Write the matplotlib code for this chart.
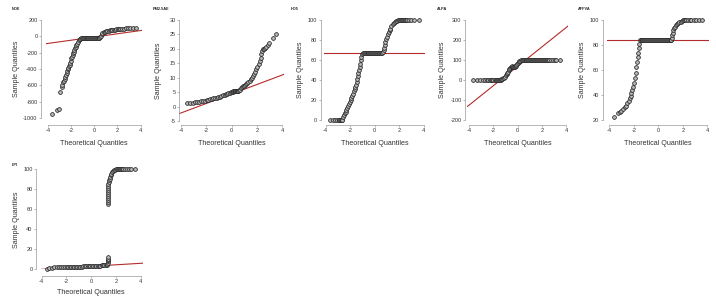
import numpy as np
import matplotlib
matplotlib.use("Agg")
import matplotlib.pyplot as plt

plt.rcParams["font.family"] = ["Liberation Sans", "DejaVu Sans"]
plt.rcParams["axes.unicode_minus"] = False

W, H = 716, 304
DPI = 100
PT = 72.0 / DPI  # points per pixel

# ------------------------------
# Data (theoretical vs sample quantiles)
# ------------------------------
NOE_X = [-3.63, -3.20, -3.03, -2.97, -2.83, -2.75, -2.68, -2.62, -2.56, -2.50, -2.45, -2.40,
         -2.34, -2.29, -2.24, -2.19, -2.14, -2.09, -2.04, -1.97, -1.92, -1.87, -1.82, -1.77,
         -1.71, -1.65, -1.60, -1.54, -1.48, -1.41, -1.34, -1.27, -1.20,
         -1.15, -1.07, -0.99, -0.91, -0.83, -0.75, -0.67, -0.59, -0.51, -0.43, -0.35, -0.27,
         -0.19, -0.11, -0.03, 0.05, 0.13, 0.21, 0.29, 0.37, 0.45,
         0.52, 0.57, 0.63, 0.70, 0.80, 0.91, 1.02, 1.13, 1.24, 1.34, 1.45, 1.56, 1.68, 1.80,
         1.91, 2.03, 2.15, 2.27, 2.40, 2.55, 2.72, 2.90, 3.10, 3.35, 3.60]
NOE_Y = [-948, -900, -888, -680, -616, -590, -565, -545, -528, -500, -475, -452,
         -428, -405, -385, -366, -348, -325, -300, -268, -248, -228, -208, -188,
         -165, -145, -126, -108, -88, -68, -48, -36, -28,
         -25, -25, -25, -25, -25, -25, -25, -25, -25, -25, -25, -25,
         -25, -25, -25, -25, -25, -25, -25, -25, -25,
         -10, 10, 30, 42, 48, 54, 60, 65, 70, 73, 76, 79, 81, 83,
         85, 87, 89, 90, 92, 94, 96, 98, 100, 100, 100]
NOE_LINE = (-8, 19.7)

PM25_X = [-3.54, -3.25, -3.05, -2.88, -2.72, -2.55, -2.40, -2.25, -2.10, -1.97, -1.84, -1.70,
          -1.57, -1.44, -1.31, -1.18, -1.05, -0.92, -0.80, -0.68, -0.55, -0.45, -0.35, -0.25,
          -0.13, -0.05,
          0.05, 0.10, 0.15, 0.20, 0.25, 0.30, 0.35, 0.40, 0.45, 0.50, 0.55,
          0.62, 0.70, 0.78, 0.86, 0.94, 1.02, 1.10, 1.18, 1.26, 1.34, 1.44, 1.52, 1.60, 1.70,
          1.78, 1.86, 1.97, 2.05, 2.14, 2.23, 2.30, 2.36, 2.42, 2.50, 2.58, 2.66, 2.76, 2.88,
          3.00, 3.28, 3.54]
PM25_Y = [1.2, 1.3, 1.4, 1.5, 1.6, 1.7, 1.8, 1.95, 2.1, 2.2, 2.35, 2.5,
          2.65, 2.8, 2.95, 3.1, 3.25, 3.4, 3.6, 3.85, 4.1, 4.3, 4.5, 4.65,
          4.8, 4.95,
          5.1, 5.2, 5.25, 5.3, 5.3, 5.3, 5.3, 5.3, 5.35, 5.4, 5.45,
          5.6, 5.9, 6.3, 6.7, 7.0, 7.3, 7.5, 7.7, 8.1, 8.4, 8.8, 9.4, 10.0, 10.6,
          11.3, 12.0, 12.9, 13.8, 14.8, 15.8, 17.0, 18.1, 19.2, 19.8, 20.1, 20.4, 20.7, 21.4,
          22.2, 23.7, 25.1]
PM25_LINE = (4.35, 1.64)

HO5_X = [-3.66, -3.40, -3.20, -3.05, -2.95, -2.88, -2.82, -2.76, -2.70, -2.64,
         -2.57, -2.50, -2.43, -2.37, -2.30, -2.23, -2.16, -2.10, -2.03, -1.96, -1.89, -1.82,
         -1.76, -1.70, -1.64, -1.58, -1.52, -1.47, -1.42, -1.37, -1.32, -1.27, -1.22, -1.18,
         -1.13, -1.08, -1.03,
         -0.98, -0.90, -0.82, -0.74, -0.66, -0.58, -0.50, -0.42, -0.34, -0.26, -0.18, -0.10,
         -0.02, 0.06, 0.14, 0.22, 0.30, 0.38, 0.46, 0.54, 0.62,
         0.68, 0.73, 0.78, 0.84, 0.89, 0.94, 1.00, 1.08, 1.15, 1.22, 1.30, 1.38, 1.49, 1.58,
         1.67, 1.76, 1.85, 1.94, 2.03,
         2.10, 2.17, 2.24, 2.31, 2.38, 2.46, 2.55, 2.65, 2.80, 3.00, 3.25, 3.66]
HO5_Y = [0, 0, 0, 0, 0, 0, 0, 0, 0, 0,
         2.7, 4.5, 6.5, 8.0, 9.4, 11.5, 13.5, 15.5, 17.7, 20.0, 22.0, 24.0,
         26.1, 28.5, 31.0, 33.0, 35.0, 37.5, 40.5, 44.0, 47.0, 50.0, 52.8, 56.0,
         59.5, 62.9, 65.5,
         67, 67, 67, 67, 67, 67, 67, 67, 67, 67, 67, 67,
         67, 67, 67, 67, 67, 67, 67, 67, 67,
         68, 69.6, 72, 75, 77.9, 80.5, 83, 86.3, 88, 90, 91.3, 93.5, 95.7, 97,
         98, 98.7, 99.2, 99.5, 99.7,
         100, 100, 100, 100, 100, 100, 100, 100, 100, 100, 100, 100]
HO5_LINE = (67, 0.0)

ALPA_X = [-3.68, -3.35, -3.10, -2.90, -2.72, -2.56, -2.42, -2.30, -2.19, -2.09, -2.00, -1.91,
          -1.83, -1.75, -1.68, -1.61, -1.54, -1.47, -1.40, -1.34,
          -1.27, -1.20, -1.12, -1.05, -0.98, -0.92, -0.86, -0.80, -0.74, -0.68, -0.62, -0.56,
          -0.50, -0.45, -0.40, -0.35, -0.30, -0.25, -0.20, -0.15, -0.10, -0.04, 0.02, 0.08,
          0.14, 0.20, 0.27,
          0.33, 0.41, 0.49, 0.57, 0.65, 0.73, 0.81, 0.89, 0.97, 1.05, 1.13, 1.21, 1.29, 1.37,
          1.45, 1.53, 1.61, 1.69, 1.77, 1.85, 1.93, 2.01, 2.09, 2.17, 2.25, 2.33, 2.41, 2.50,
          2.62, 2.75, 2.90, 3.05, 3.20, 3.52]
ALPA_Y = [0, 0, 0, 0, 0, 0, 0, 0, 0, 0, 0, 0,
          0, 0, 0, 0, 1, 1, 2, 3,
          5, 8, 12, 17, 24, 29, 33, 42, 49, 54, 58, 63,
          67, 68, 66, 64, 65, 66, 68, 70, 73, 78, 83, 88,
          93, 97, 99,
          100, 100, 100, 100, 100, 100, 100, 100, 100, 100, 100, 100, 100, 100,
          100, 100, 100, 100, 100, 100, 100, 100, 100, 100, 100, 100, 100, 100,
          100, 100, 100, 100, 100, 100]
ALPA_LINE = (68.5, 48.3)

AFFVA_X = [-3.62, -3.29, -3.15, -3.02, -2.88, -2.74, -2.63, -2.52, -2.42, -2.33, -2.26, -2.19,
           -2.12, -2.05, -1.98, -1.92, -1.85, -1.78, -1.72, -1.67, -1.63, -1.59, -1.55, -1.51,
           -1.45, -1.37, -1.29, -1.21, -1.13, -1.05, -0.97, -0.89, -0.81, -0.73, -0.65, -0.57,
           -0.49, -0.41, -0.33, -0.25, -0.17, -0.09, -0.01, 0.07, 0.15, 0.23, 0.31, 0.39,
           0.47, 0.55, 0.63, 0.71, 0.79, 0.87, 0.95, 1.03, 1.07,
           1.12, 1.15, 1.19, 1.23, 1.30, 1.37, 1.45, 1.55, 1.64, 1.72, 1.82, 1.92,
           2.00, 2.08, 2.19, 2.30, 2.42, 2.55, 2.70, 2.88, 3.10, 3.30, 3.56]
AFFVA_Y = [22.1, 25.3, 26.5, 27.5, 28.8, 30.1, 31.5, 33.3, 35.3, 37.3, 39.3, 41.3,
           44.0, 46.7, 50.0, 53.3, 58.0, 62.7, 66.7, 70.7, 74.0, 77.3, 80.5, 84.0,
           84, 84, 84, 84, 84, 84, 84, 84, 84, 84, 84, 84,
           84, 84, 84, 84, 84, 84, 84, 84, 84, 84, 84, 84,
           84, 84, 84, 84, 84, 84, 84, 84, 84,
           86, 88, 90, 92, 93.5, 94.7, 95.8, 96.8, 97.3, 98.2, 98.8, 99.2,
           100, 100, 100, 100, 100, 100, 100, 100, 100, 100, 100]
AFFVA_LINE = (84, 0.0)

LPI_X = [-3.60, -3.40, -3.18, -2.98, -2.78, -2.60, -2.42, -2.25, -2.10, -1.97, -1.85, -1.72,
         -1.60, -1.48, -1.36, -1.24, -1.12, -1.00, -0.89, -0.77, -0.65, -0.53, -0.41, -0.29,
         -0.18, -0.08, 0.04, 0.16, 0.28, 0.40, 0.52, 0.63, 0.73, 0.84, 0.95, 1.06, 1.16, 1.27,
         1.31, 1.33, 1.34, 1.35, 1.35, 1.36,
         1.36, 1.36, 1.36, 1.36, 1.37, 1.37, 1.37, 1.37, 1.38, 1.38, 1.38,
         1.40, 1.44, 1.48, 1.53, 1.58, 1.62, 1.68, 1.75, 1.85, 1.95,
         2.02, 2.10, 2.18, 2.26, 2.34, 2.42, 2.50, 2.60, 2.72, 2.86, 3.02, 3.25, 3.50]
LPI_Y = [0, 1.2, 1.7, 1.9, 2.0, 2.1, 2.2, 2.2, 2.3, 2.3, 2.4, 2.4,
         2.5, 2.5, 2.6, 2.6, 2.6, 2.7, 2.7, 2.8, 2.9, 3.0, 3.0, 3.1,
         3.2, 3.3, 3.4, 3.5, 3.5, 3.6, 3.7, 3.8, 3.8, 3.9, 4.0, 4.1, 4.2, 4.3,
         5.0, 6.5, 8.0, 9.3, 10.5, 12.0,
         65, 67, 69, 71, 73, 75, 77, 79, 81, 83, 85,
         87, 89, 90.7, 92.5, 94.2, 95.7, 97.2, 98.3, 99.2, 99.7,
         100, 100, 100, 100, 100, 100, 100, 100, 100, 100, 100, 100, 100]
LPI_LINE = (3.0, 0.75)

X_TICKS = [-4, -2, 0, 2, 4]

# ------------------------------
# Panel layout in pixels: x of -4 / 4, y of top / bottom tick, y-axis x, x-axis y
# ------------------------------
PANELS = [
    dict(title="NOE", x=NOE_X, y=NOE_Y, line=NOE_LINE, yticks=list(range(-1000, 201, 200)),
         px=(48, 140.5, 20, 118, 41, 125), tpos=(12, 9), ylx=16, xly=144),
    dict(title="PM2.5AE", x=PM25_X, y=PM25_Y, line=PM25_LINE, yticks=list(range(-5, 31, 5)),
         px=(181, 282, 20, 121, 179, 125), tpos=(153, 9), ylx=159, xly=144),
    dict(title="HO5", x=HO5_X, y=HO5_Y, line=HO5_LINE, yticks=list(range(0, 101, 20)),
         px=(325.7, 423.5, 20, 119.5, 320.7, 124.5), tpos=(291, 9), ylx=301, xly=144),
    dict(title="ALPA", x=ALPA_X, y=ALPA_Y, line=ALPA_LINE, yticks=list(range(-200, 301, 100)),
         px=(469.3, 566, 20, 120, 465, 125), tpos=(437, 9), ylx=442, xly=144),
    dict(title="AFFVA", x=AFFVA_X, y=AFFVA_Y, line=AFFVA_LINE, yticks=list(range(20, 101, 20)),
         px=(609.3, 707.3, 20, 120, 602.7, 125), tpos=(578, 9), ylx=583, xly=144),
    dict(title="LPI", x=LPI_X, y=LPI_Y, line=LPI_LINE, yticks=list(range(0, 101, 20)),
         px=(41.7, 140.7, 169.3, 269.3, 36, 275.7), tpos=(12, 164.7), ylx=16, xly=292.7),
]

fig = plt.figure(figsize=(W / DPI, H / DPI), dpi=DPI)
fig.patch.set_facecolor("white")

AXIS_COL = "#9a9a9a"
TEXT_COL = "#333333"

for p in PANELS:
    x_lo, x_hi, y_top, y_bot, yaxis_px, xaxis_px = p["px"]
    unit = (x_hi - x_lo) / 8.0
    left = x_lo - 0.15 * unit
    right = x_hi + 0.15 * unit
    ax = fig.add_axes([left / W, 1 - y_bot / H, (right - left) / W, (y_bot - y_top) / H])
    ax.set_facecolor("none")
    ax.set_xlim(-4.15, 4.15)
    ymin, ymax = p["yticks"][0], p["yticks"][-1]
    ax.set_ylim(ymin, ymax)

    ax.plot(p["x"], p["y"], linestyle="none", marker="o", ms=2.7, mew=0.55,
            mfc="#b8b8b8", mec="#222222", clip_on=False, zorder=3)
    a, b = p["line"]
    ax.axline((0, a), slope=b, color="#b52b2b", lw=0.8, zorder=2)

    for s in ("top", "right"):
        ax.spines[s].set_visible(False)
    ax.spines["left"].set_position(("outward", (left - yaxis_px) * PT))
    ax.spines["bottom"].set_position(("outward", (xaxis_px - y_bot) * PT))
    ax.spines["left"].set_bounds(ymin, ymax)
    ax.spines["bottom"].set_bounds(-4, 4)
    for s in ("left", "bottom"):
        ax.spines[s].set_color(AXIS_COL)
        ax.spines[s].set_linewidth(0.5)

    ax.set_xticks(X_TICKS)
    ax.set_yticks(p["yticks"])
    ax.tick_params(length=1.3, width=0.5, color=AXIS_COL, labelsize=4.0,
                   labelcolor=TEXT_COL, pad=1.2)

    fig.text(p["tpos"][0] / W, 1 - p["tpos"][1] / H, p["title"], fontsize=2.8,
             fontweight="bold", color="#222222", ha="left", va="center")
    fig.text(p["ylx"] / W, 1 - ((y_top + y_bot) / 2) / H, "Sample Quantiles",
             rotation=90, fontsize=5.1, color=TEXT_COL, ha="center", va="center")
    fig.text(((x_lo + x_hi) / 2) / W, 1 - p["xly"] / H, "Theoretical Quantiles",
             fontsize=5.1, color=TEXT_COL, ha="center", va="center")

fig.savefig("out.png", dpi=DPI)
